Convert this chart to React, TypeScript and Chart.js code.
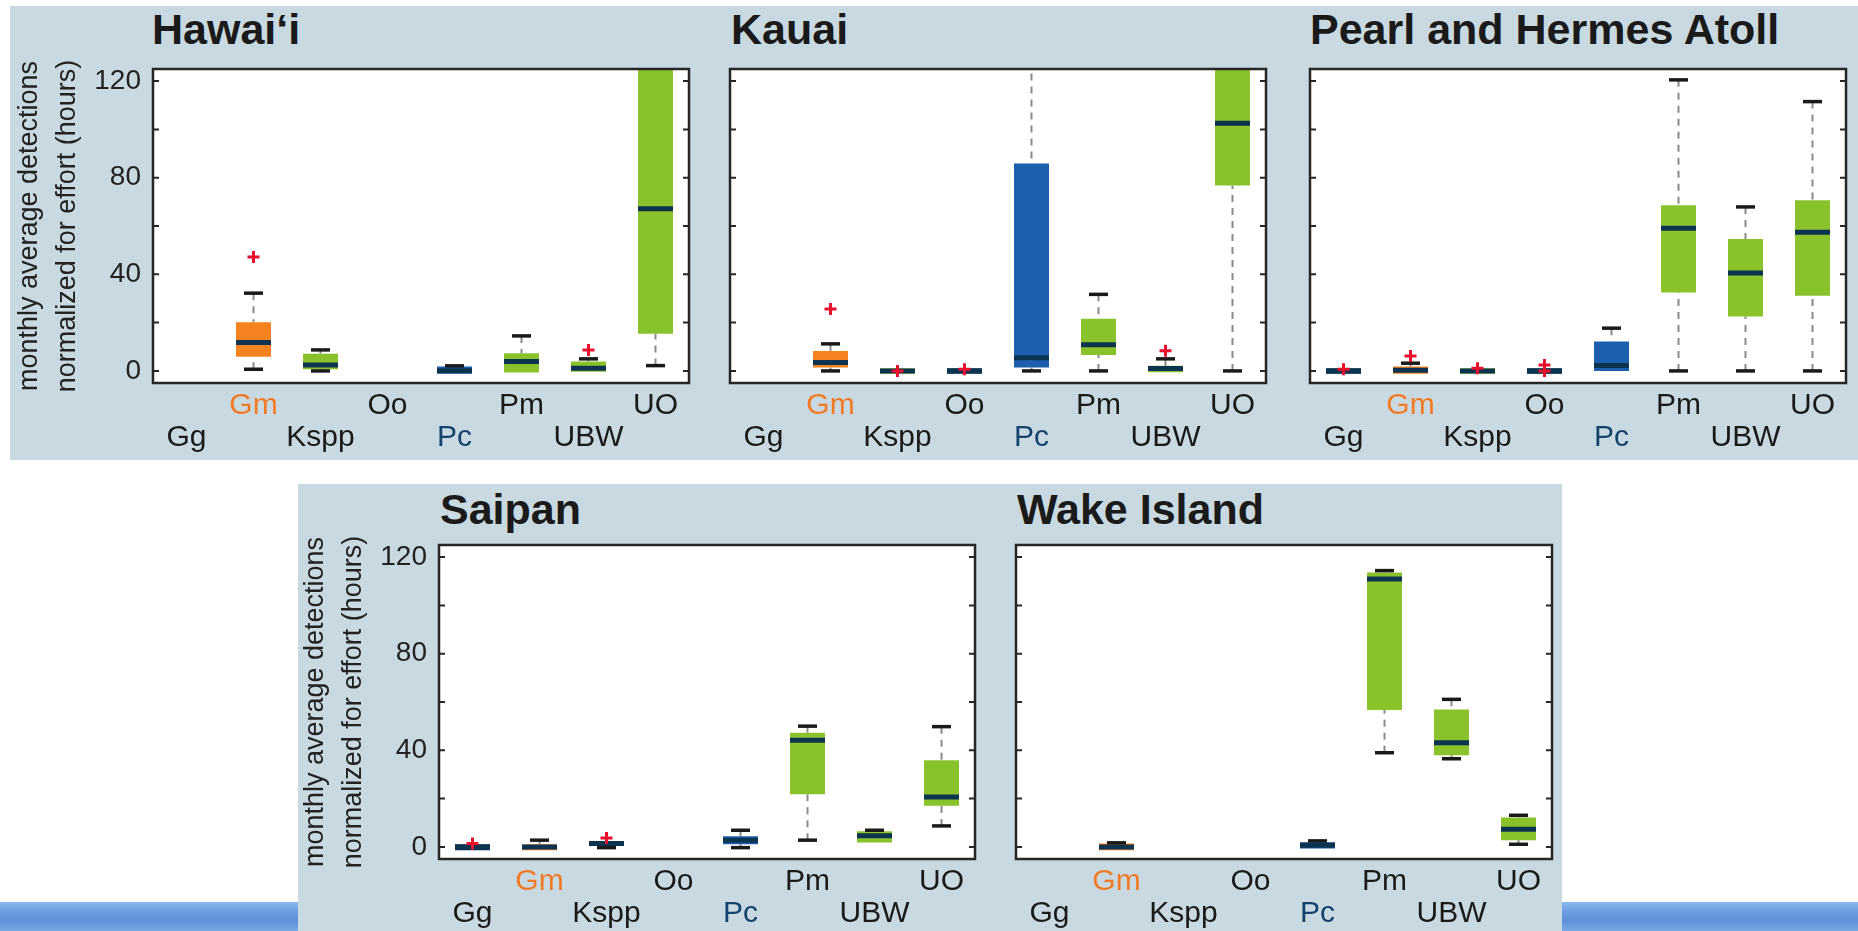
import React, { useEffect, useRef } from "react";
import { Chart, registerables } from "chart.js";

Chart.register(...registerables);

const FONT = '"Liberation Sans", Arial, Helvetica, sans-serif';

// ---------- data ----------
const categories = ["Gg", "Gm", "Kspp", "Oo", "Pc", "Pm", "UBW", "UO"];
const yTickValues = [0, 20, 40, 60, 80, 100, 120];
const yLabelValues = [0, 40, 80, 120];
const yAxisTitle = ["monthly average detections", "normalized for effort (hours)"];

const boxColors = ["#0C3350", "#F4821F", "#8AC22C", "#0C3350", "#1B5FAD", "#8AC22C", "#8AC22C", "#8AC22C"];
const labelColors = ["#1a1a1a", "#F27A24", "#1a1a1a", "#1a1a1a", "#15436B", "#1a1a1a", "#1a1a1a", "#1a1a1a"];

// Hawai'i
const hawaiiLow = [null, 0.7, 0, null, null, null, null, 2.2];
const hawaiiQ1 = [null, 5.9, 0.7, null, -1.2, -0.7, -0.3, 15.4];
const hawaiiMedian = [null, 11.8, 2.5, null, 0.1, 3.9, 1.1, 67.1];
const hawaiiQ3 = [null, 20.2, 7.1, null, 1.8, 7.3, 3.9, 140];
const hawaiiHigh = [null, 32.2, 8.7, null, 2.1, 14.5, 5.0, 150];
const hawaiiOutliers = [{ x: "Gm", y: 47.2 }, { x: "UBW", y: 8.7 }];

// Kauai
const kauaiLow = [null, 0, null, null, 0, 0, null, 0];
const kauaiQ1 = [null, 1.4, -1.2, -1.2, 1.4, 6.6, -0.5, 76.8];
const kauaiMedian = [null, 3.5, 0, 0, 5.5, 10.8, 1.0, 102.5];
const kauaiQ3 = [null, 8.3, 1.1, 1.1, 85.9, 21.6, 2.1, 140];
const kauaiHigh = [null, 11.2, null, null, 150, 31.7, 5.0, 150];
const kauaiOutliers = [{ x: "Gm", y: 25.6 }, { x: "Kspp", y: 0 }, { x: "Oo", y: 0.7 }, { x: "UBW", y: 8.4 }];

// Pearl and Hermes Atoll
const pearlLow = [null, null, null, null, null, 0, 0, 0];
const pearlQ1 = [-1.2, -1.2, -1.2, -1.2, 0, 32.5, 22.5, 31.1];
const pearlMedian = [0, 0.3, 0, 0, 2.2, 59.1, 40.5, 57.4];
const pearlQ3 = [1.1, 1.8, 1.1, 1.1, 12.2, 68.6, 54.6, 70.7];
const pearlHigh = [null, 3.2, null, null, 17.7, 120.5, 67.9, 111.5];
const pearlOutliers = [{ x: "Gg", y: 0.7 }, { x: "Gm", y: 6.2 }, { x: "Kspp", y: 1.1 }, { x: "Oo", y: 2.5 }, { x: "Oo", y: 0 }];

// Saipan
const saipanLow = [null, null, -0.3, null, -0.3, 2.8, null, 8.7];
const saipanQ1 = [-1.4, -1.4, 0.4, null, 1.1, 21.8, 1.8, 17.0];
const saipanMedian = [0, 0, 1.4, null, 2.8, 44.2, 4.6, 20.7];
const saipanQ3 = [1.1, 1.1, 2.3, null, 4.4, 47.3, 6.5, 35.9];
const saipanHigh = [null, 2.8, null, null, 6.9, 50, 6.9, 49.8];
const saipanOutliers = [{ x: "Gg", y: 1.4 }, { x: "Kspp", y: 3.7 }];

// Wake Island
const wakeLow = [null, null, null, null, null, 39.0, 36.5, 1.1];
const wakeQ1 = [null, -1.4, null, null, -0.7, 56.7, 38.0, 2.8];
const wakeMedian = [null, 0, null, null, 0.7, 110.9, 43.1, 7.3];
const wakeQ3 = [null, 1.4, null, null, 1.9, 113.6, 56.9, 12.2];
const wakeHigh = [null, 1.7, null, null, 2.5, 114.4, 61.1, 13.1];
const wakeOutliers: { x: string; y: number }[] = [];

// ---------- layout ----------
const PLOT_W = 536;
const PLOT_H = 314;
const Y_AXIS_W = 152;
const PAD_SIDE = 8;
const PAD_TOP = 30;
const X_AXIS_H = 76;
const BG = "#C8D9E1";

type Panel = {
  title: string;
  low: (number | null)[];
  q1: (number | null)[];
  median: (number | null)[];
  q3: (number | null)[];
  high: (number | null)[];
  outliers: { x: string; y: number }[];
  plotLeft: number;
  plotTop: number;
  showY: boolean;
};

const panels: Panel[] = [
  { title: "Hawai\u2018i", low: hawaiiLow, q1: hawaiiQ1, median: hawaiiMedian, q3: hawaiiQ3, high: hawaiiHigh, outliers: hawaiiOutliers, plotLeft: 153, plotTop: 69, showY: true },
  { title: "Kauai", low: kauaiLow, q1: kauaiQ1, median: kauaiMedian, q3: kauaiQ3, high: kauaiHigh, outliers: kauaiOutliers, plotLeft: 730, plotTop: 69, showY: false },
  { title: "Pearl and Hermes Atoll", low: pearlLow, q1: pearlQ1, median: pearlMedian, q3: pearlQ3, high: pearlHigh, outliers: pearlOutliers, plotLeft: 1310, plotTop: 69, showY: false },
  { title: "Saipan", low: saipanLow, q1: saipanQ1, median: saipanMedian, q3: saipanQ3, high: saipanHigh, outliers: saipanOutliers, plotLeft: 439, plotTop: 545, showY: true },
  { title: "Wake Island", low: wakeLow, q1: wakeQ1, median: wakeMedian, q3: wakeQ3, high: wakeHigh, outliers: wakeOutliers, plotLeft: 1016, plotTop: 545, showY: false },
];

function BoxPanel({ p }: { p: Panel }) {
  const ref = useRef<HTMLCanvasElement>(null);
  const leftW = p.showY ? Y_AXIS_W : PAD_SIDE;
  const width = leftW + PLOT_W + PAD_SIDE;
  const height = PAD_TOP + PLOT_H + X_AXIS_H;

  useEffect(() => {
    if (!ref.current) return;

    const plotBgPlugin = {
      id: "plotBg",
      beforeDraw(chart: any) {
        const { ctx, chartArea } = chart;
        ctx.save();
        ctx.fillStyle = "#ffffff";
        ctx.fillRect(chartArea.left, chartArea.top, chartArea.right - chartArea.left, chartArea.bottom - chartArea.top);
        ctx.restore();
      },
    };

    const stemPlugin = {
      id: "stems",
      beforeDatasetsDraw(chart: any) {
        const { ctx, chartArea, scales } = chart;
        const xs = scales.x;
        const ys = scales.y;
        ctx.save();
        ctx.beginPath();
        ctx.rect(chartArea.left, chartArea.top, chartArea.right - chartArea.left, chartArea.bottom - chartArea.top);
        ctx.clip();
        ctx.strokeStyle = "#8a8a8a";
        ctx.lineWidth = 2;
        ctx.setLineDash([7, 6]);
        categories.forEach((_, i) => {
          const xp = xs.getPixelForValue(i);
          const hi = p.high[i];
          const q3 = p.q3[i];
          const lo = p.low[i];
          const q1 = p.q1[i];
          if (hi != null && q3 != null && hi > q3) {
            ctx.beginPath();
            ctx.moveTo(xp, ys.getPixelForValue(hi));
            ctx.lineTo(xp, ys.getPixelForValue(q3));
            ctx.stroke();
          }
          if (lo != null && q1 != null && lo < q1) {
            ctx.beginPath();
            ctx.moveTo(xp, ys.getPixelForValue(lo));
            ctx.lineTo(xp, ys.getPixelForValue(q1));
            ctx.stroke();
          }
        });
        ctx.restore();
      },
    };

    const framePlugin = {
      id: "frame",
      afterDatasetsDraw(chart: any) {
        const { ctx, chartArea, scales } = chart;
        const { left, right, top, bottom } = chartArea;
        ctx.save();
        ctx.strokeStyle = "#262626";
        ctx.lineWidth = 2;
        yTickValues.forEach((v) => {
          const yp = scales.y.getPixelForValue(v);
          ctx.beginPath();
          ctx.moveTo(left, yp);
          ctx.lineTo(left + 6, yp);
          ctx.moveTo(right, yp);
          ctx.lineTo(right - 6, yp);
          ctx.stroke();
        });
        ctx.lineWidth = 2.5;
        ctx.strokeRect(left, top, right - left, bottom - top);
        ctx.restore();
      },
    };

    const chart = new Chart(ref.current, {
      type: "bar",
      data: {
        labels: categories,
        datasets: [
          {
            type: "line",
            label: "outliers",
            data: p.outliers as any,
            showLine: false,
            pointStyle: "cross",
            pointRadius: 6,
            pointBorderWidth: 3,
            pointBorderColor: "#E8112D",
            pointBackgroundColor: "#E8112D",
            order: 1,
          },
          {
            type: "line",
            label: "upper whisker",
            data: p.high as any,
            showLine: false,
            pointStyle: "line",
            pointRadius: 9.5,
            pointBorderWidth: 3.5,
            pointBorderColor: "#1a1a1a",
            order: 2,
          },
          {
            type: "line",
            label: "lower whisker",
            data: p.low as any,
            showLine: false,
            pointStyle: "line",
            pointRadius: 9.5,
            pointBorderWidth: 3.5,
            pointBorderColor: "#1a1a1a",
            order: 2,
          },
          {
            type: "line",
            label: "median",
            data: p.median as any,
            showLine: false,
            pointStyle: "line",
            pointRadius: 17.5,
            pointBorderWidth: 5,
            pointBorderColor: "#0C3350",
            order: 3,
          },
          {
            type: "bar",
            label: "box",
            data: p.q1.map((v, i) => (v == null || p.q3[i] == null ? null : [v, p.q3[i] as number])) as any,
            backgroundColor: boxColors,
            borderWidth: 0,
            barPercentage: 0.522,
            categoryPercentage: 1,
            order: 4,
          },
        ],
      },
      options: {
        responsive: false,
        animation: false,
        events: [],
        layout: {
          autoPadding: false,
          padding: { left: p.showY ? 0 : PAD_SIDE, right: PAD_SIDE, top: PAD_TOP, bottom: 0 },
        },
        plugins: { legend: { display: false }, tooltip: { enabled: false }, title: { display: false } },
        scales: {
          x: {
            type: "category",
            offset: true,
            grid: { display: false, drawTicks: false },
            border: { display: false },
            ticks: {
              autoSkip: false,
              maxRotation: 0,
              minRotation: 0,
              padding: 7,
              font: { family: FONT, size: 30, lineHeight: "32px" },
              color: (c: any) => labelColors[c.index],
              callback: (_v: any, i: number) => (i % 2 === 1 ? [categories[i], ""] : ["", categories[i]]),
            },
            afterFit: (s: any) => {
              s.height = X_AXIS_H;
              s.paddingLeft = 0;
              s.paddingRight = 0;
            },
          },
          y: {
            min: -5,
            max: 125,
            grid: { display: false, drawTicks: false },
            border: { display: false },
            afterBuildTicks: (s: any) => {
              s.ticks = yTickValues.map((v) => ({ value: v }));
            },
            ticks: {
              display: p.showY,
              padding: 12,
              color: "#222",
              font: { family: FONT, size: 28 },
              callback: (v: any) => (yLabelValues.includes(Number(v)) ? String(v) : ""),
            },
            title: {
              display: p.showY,
              text: yAxisTitle,
              color: "#222",
              font: { family: FONT, size: 27, lineHeight: "38px" },
              padding: { top: 9.5, bottom: 0 },
            },
            afterFit: (s: any) => {
              s.width = p.showY ? Y_AXIS_W : 0;
              s.paddingTop = 0;
              s.paddingBottom = 0;
            },
          },
        },
      } as any,
      plugins: [plotBgPlugin, stemPlugin, framePlugin],
    });
    return () => chart.destroy();
  }, [p]);

  return (
    <canvas
      ref={ref}
      width={width}
      height={height}
      style={{
        position: "absolute",
        left: p.plotLeft - leftW,
        top: p.plotTop - PAD_TOP,
        width,
        height,
      }}
    />
  );
}

const titleStyle = (left: number, top: number): React.CSSProperties => ({
  position: "absolute",
  left,
  top,
  font: `bold 43px ${FONT}`,
  lineHeight: "43px",
  color: "#1a1a1a",
  whiteSpace: "nowrap",
});

const sea = "linear-gradient(180deg, #8ab9ee 0%, #6a9be0 35%, #5f90d6 65%, #79aae6 100%)";

export default function App() {
  return (
    <div
      style={{
        position: "absolute",
        left: 0,
        top: 0,
        width: 1858,
        height: 931,
        background: "#ffffff",
        overflow: "hidden",
        fontFamily: FONT,
      }}
    >
      <div style={{ position: "absolute", left: 10, top: 6, width: 1848, height: 454, background: BG }} />
      <div style={{ position: "absolute", left: 298, top: 484, width: 1264, height: 447, background: BG }} />
      <div style={{ position: "absolute", left: 0, top: 902, width: 298, height: 29, background: sea }} />
      <div style={{ position: "absolute", left: 1562, top: 902, width: 296, height: 29, background: sea }} />

      <div style={titleStyle(152, 8)}>{panels[0].title}</div>
      <div style={titleStyle(731, 8)}>{panels[1].title}</div>
      <div style={titleStyle(1310, 8)}>{panels[2].title}</div>
      <div style={titleStyle(440, 488)}>{panels[3].title}</div>
      <div style={titleStyle(1017, 488)}>{panels[4].title}</div>

      {panels.map((p) => (
        <BoxPanel key={p.title} p={p} />
      ))}
    </div>
  );
}
